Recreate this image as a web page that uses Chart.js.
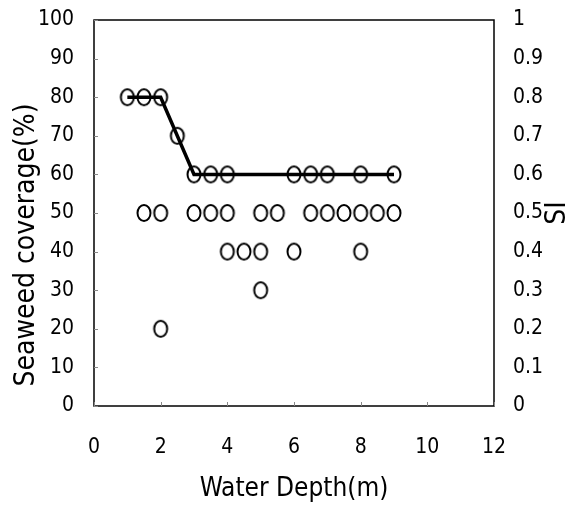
<!DOCTYPE html>
<html>
<head>
<meta charset="utf-8">
<script src="https://cdn.jsdelivr.net/npm/chart.js@4.4.1/dist/chart.umd.min.js"></script>
<style>
  body { margin: 0; background: #fff; }
  canvas { display: block; }
</style>
</head>
<body>
<canvas id="grafico" width="577" height="505"></canvas>
<script>
// Dados
const depth = [
  1, 1.5, 2, 2.5, 3, 3.5, 4, 6, 6.5, 7, 8, 9,
  1.5, 2, 3, 3.5, 4, 5, 5.5, 6.5, 7, 7.5, 8, 8.5, 9,
  4, 4.5, 5, 6, 8,
  5,
  2
];
const coverage = [
  80, 80, 80, 70, 60, 60, 60, 60, 60, 60, 60, 60,
  50, 50, 50, 50, 50, 50, 50, 50, 50, 50, 50, 50, 50,
  40, 40, 40, 40, 40,
  30,
  20
];
const siDepth = [1, 2, 3, 9];
const siValue = [0.8, 0.8, 0.6, 0.6];

const xTicks = [0, 2, 4, 6, 8, 10, 12];
const leftTitle = 'Seaweed coverage(%)';
const rightTitle = 'SI';
const bottomTitle = 'Water Depth(m)';

const fonte = '"Liberation Sans Narrow", "DejaVu Sans Condensed", sans-serif';

// marcador oval (como no original)
const oval = document.createElement('canvas');
oval.width = 18;
oval.height = 22;
const oc = oval.getContext('2d');
oc.strokeStyle = '#000';
oc.lineWidth = 2;
oc.beginPath();
oc.ellipse(9, 11, 6.5, 8, 0, 0, Math.PI * 2);
oc.stroke();

// moldura, pequenos ticks internos e títulos verticais
const extras = {
  id: 'extras',
  afterDraw(chart) {
    const c = chart.ctx;
    const a = chart.chartArea;
    const sx = chart.scales.x;
    const sy = chart.scales.y;
    c.save();
    c.strokeStyle = '#000';
    c.lineWidth = 1.5;
    c.strokeRect(a.left, a.top, a.right - a.left, a.bottom - a.top);

    c.strokeStyle = '#888';
    c.lineWidth = 1;
    c.beginPath();
    xTicks.forEach(v => {
      const px = Math.round(sx.getPixelForValue(v)) + 0.5;
      c.moveTo(px, a.bottom);
      c.lineTo(px, a.bottom - 4);
    });
    for (let v = 0; v <= 100; v += 10) {
      const py = Math.round(sy.getPixelForValue(v)) + 0.5;
      c.moveTo(a.left, py);
      c.lineTo(a.left + 4, py);
    }
    c.stroke();

    c.fillStyle = '#000';
    c.font = '28px ' + fonte;
    c.textAlign = 'center';
    c.textBaseline = 'middle';
    c.save();
    c.translate(27, (a.top + a.bottom) / 2 + 32);
    c.rotate(-Math.PI / 2);
    c.fillText(leftTitle, 0, 0);
    c.restore();
    c.save();
    c.translate(558, sy.getPixelForValue(50));
    c.rotate(-Math.PI / 2);
    c.fillText(rightTitle, 0, 0);
    c.restore();
    c.restore();
  }
};

// eixo vertical com largura fixa e sem folga extra em cima/baixo
function ajustaVertical(largura) {
  return s => {
    s.width = largura;
    s.paddingTop = 0;
    s.paddingBottom = 0;
  };
}

new Chart(document.getElementById('grafico'), {
  type: 'scatter',
  data: {
    datasets: [
      {
        label: 'SI',
        type: 'line',
        data: siDepth.map((x, i) => ({ x, y: siValue[i] })),
        yAxisID: 'y2',
        borderColor: '#000',
        borderWidth: 3.5,
        pointRadius: 0,
        fill: false,
        tension: 0
      },
      {
        label: 'Seaweed coverage',
        data: depth.map((x, i) => ({ x, y: coverage[i] })),
        yAxisID: 'y',
        pointStyle: oval,
        pointRadius: 8
      }
    ]
  },
  options: {
    responsive: false,
    animation: false,
    layout: { padding: { top: 20, left: 0, right: 0, bottom: 0 } },
    plugins: {
      legend: { display: false },
      tooltip: { enabled: false }
    },
    scales: {
      x: {
        type: 'linear',
        min: 0,
        max: 12,
        afterBuildTicks: s => { s.ticks = xTicks.map(v => ({ value: v })); },
        grid: { display: false, drawTicks: false },
        border: { display: false },
        ticks: { color: '#000', padding: 29, font: { family: fonte, size: 21 } },
        title: {
          display: true,
          text: bottomTitle,
          color: '#000',
          padding: { top: 0, bottom: 0 },
          font: { family: fonte, size: 26 }
        },
        afterFit: s => {
          s.height = 99;
          s.paddingLeft = 0;
          s.paddingRight = 0;
        }
      },
      y: {
        position: 'left',
        min: 0,
        max: 100,
        ticks: { stepSize: 10, color: '#000', padding: 20, font: { family: fonte, size: 21 } },
        grid: { display: false, drawTicks: false },
        border: { display: false },
        afterFit: ajustaVertical(94)
      },
      y2: {
        position: 'right',
        min: 0,
        max: 1,
        ticks: {
          stepSize: 0.1,
          color: '#000',
          padding: 19,
          font: { family: fonte, size: 21 },
          callback: v => String(+v.toFixed(1))
        },
        grid: { display: false, drawTicks: false },
        border: { display: false },
        afterFit: ajustaVertical(83)
      }
    }
  },
  plugins: [extras]
});
</script>
</body>
</html>
